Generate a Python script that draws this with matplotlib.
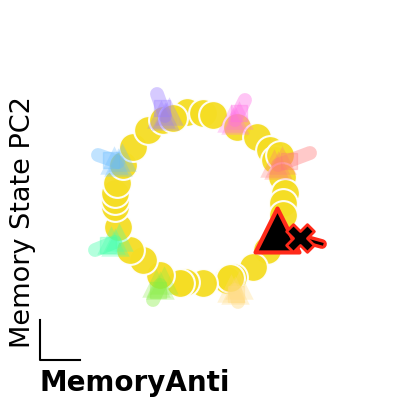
import numpy as np
import matplotlib
matplotlib.use("Agg")
import matplotlib.pyplot as plt

# ring of fixed points (memory state PC1 / PC2)
ring_pc1 = [-0.13, 0.03, 0.13, 0.37, 0.57, 0.70, 0.75, 0.80, 0.82, 0.85, 0.83, 0.83,
            0.67, 0.53, 0.33, 0.27, 0.30, 0.03, -0.15, -0.20, -0.40, -0.57, -0.70,
            -0.82, -0.85, -0.85, -0.85, -0.83, -0.77, -0.67, -0.52, -0.37, -0.27]
ring_pc2 = [0.88, 0.87, 0.85, 0.73, 0.63, 0.50, 0.40, 0.45, 0.23, 0.07, -0.03, -0.15,
            -0.50, -0.67, -0.77, -0.80, -0.78, -0.83, -0.82, -0.83, -0.75, -0.60, -0.50,
            -0.27, -0.07, 0.00, 0.07, 0.17, 0.35, 0.53, 0.70, 0.80, 0.82]

# trajectories for each stimulus direction: start / end of the drift
dir_colors = ["#9a7cff", "#ff6ee6", "#ff7a7a", "#66bbff", "#44ffaa", "#88ee44", "#ffd97a"]
traj_x0 = [-0.35, 0.35, 0.78, -0.82, -0.85, -0.40, 0.35]
traj_y0 = [0.84, 0.80, 0.35, 0.38, -0.42, -0.85, -0.90]
traj_x1 = [-0.43, 0.45, 1.10, -1.02, -1.05, -0.47, 0.38]
traj_y1 = [1.06, 1.00, 0.47, 0.45, -0.50, -1.00, -1.02]

# highlighted condition
hl_tri = (0.77, -0.30)
hl_x = (1.00, -0.38)
hl_end = (1.22, -0.44)

fig = plt.figure(figsize=(4, 4), dpi=100)
ax = fig.add_axes([0.1, 0.1, 0.8, 0.8])
ax.set_xlim(-1.6, 1.6)
ax.set_ylim(-1.6, 1.6)
ax.axis("off")

ax.scatter(ring_pc1, ring_pc2, s=430, color="#f5dd24", edgecolors="white",
           linewidths=1.5, alpha=0.95, zorder=2)

for c, x0, y0, x1, y1 in zip(dir_colors, traj_x0, traj_y0, traj_x1, traj_y1):
    ax.plot([x0, x1], [y0, y1], color=c, lw=10, alpha=0.4, solid_capstyle="round", zorder=3)
    ax.plot([x0 + 0.35 * (x1 - x0)], [y0 + 0.35 * (y1 - y0)], "s", ms=11, color=c,
            alpha=0.3, zorder=3)
    ax.scatter([x0, x0 + 0.04, x0 - 0.04], [y0, y0 + 0.05, y0 + 0.02], marker="^",
               s=420, color=c, alpha=0.3, linewidths=0, zorder=4)

ax.plot([hl_tri[0] + 0.1, hl_x[0], hl_end[0]], [hl_tri[1] - 0.03, hl_x[1], hl_end[1]],
        color="#ff2a1a", lw=7, solid_capstyle="round", zorder=5)
ax.plot([hl_tri[0] + 0.1, hl_x[0], hl_end[0]], [hl_tri[1] - 0.03, hl_x[1], hl_end[1]],
        color="black", lw=2, zorder=6)
ax.scatter([hl_tri[0]], [hl_tri[1]], marker="^", s=1000, color="black",
           edgecolors="#ff2a1a", linewidths=3, zorder=7)
ax.scatter([hl_x[0]], [hl_x[1]], marker="X", s=400, color="black",
           edgecolors="#ff2a1a", linewidths=2, zorder=7)

# scale bar
fig.add_artist(plt.Line2D([0.1, 0.1, 0.2], [0.2, 0.1, 0.1], color="black", lw=1.5))

fig.text(0.1, 0.043, "MemoryAnti", fontsize=20, fontweight="bold", ha="left", va="center")
fig.text(0.057, 0.445, "Memory State PC2", fontsize=19.5, rotation=90, ha="center", va="center")

fig.savefig("out.png", dpi=100)
